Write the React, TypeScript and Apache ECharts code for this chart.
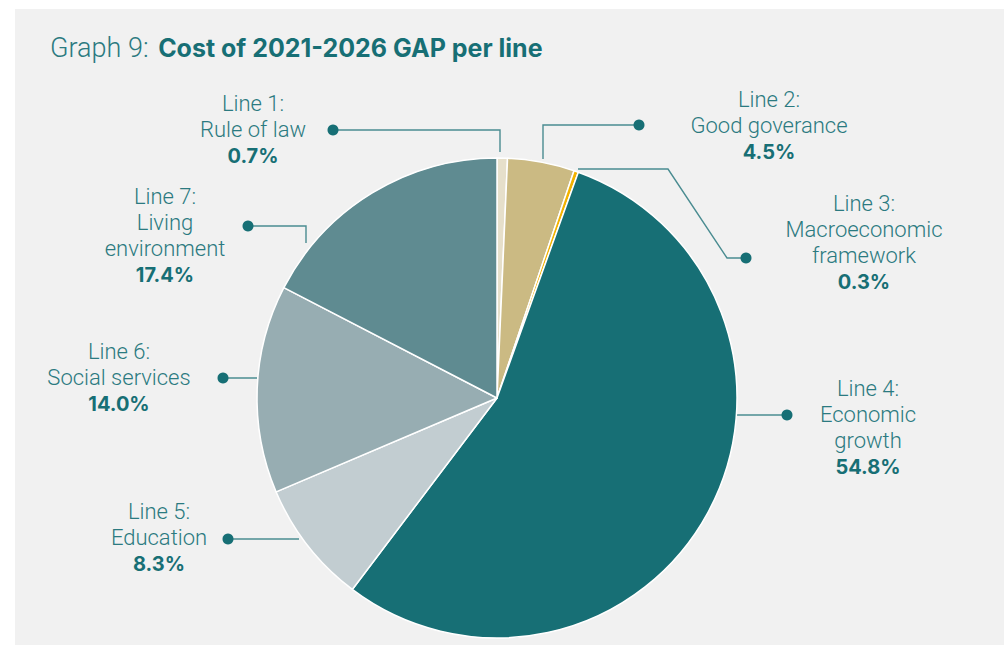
import React, { useEffect, useRef } from "react";
import * as echarts from "echarts";

const categories = [
  "Line 1:\nRule of law",
  "Line 2:\nGood goverance",
  "Line 3:\nMacroeconomic\nframework",
  "Line 4:\nEconomic\ngrowth",
  "Line 5:\nEducation",
  "Line 6:\nSocial services",
  "Line 7:\nLiving\nenvironment",
];
const shares = [0.7, 4.5, 0.3, 54.8, 8.3, 14.0, 17.4];
const sliceColors = ["#e6dfca", "#cbba83", "#f2b200", "#176f75", "#c2cdd1", "#97adb2", "#5f8b91"];

// label anchor (center x, middle y) and leader line points (slice -> dot)
const labelAnchors: [number, number][] = [
  [253, 130],
  [769, 126],
  [864, 243],
  [868, 428],
  [159, 538],
  [119, 378],
  [165, 236],
];
const leaderLines: [number, number][][] = [
  [[500, 152], [500, 130], [333, 130]],
  [[543, 159], [543, 125], [639, 125]],
  [[578, 169], [668, 169], [727, 258], [746, 258]],
  [[737, 415], [787, 415]],
  [[299, 539], [228, 539]],
  [[257, 378], [223, 378]],
  [[306, 243], [306, 226], [248, 226]],
];

const TEAL = "#176f75";
const LIGHT_FONT = "Roboto";
const BOLD_FONT = "Inter";

export default function App() {
  const ref = useRef<HTMLDivElement>(null);
  useEffect(() => {
    if (!ref.current) return;
    const chart = echarts.init(ref.current, null, { renderer: "svg" });
    const data = categories.map((c, i) => ({
      name: c,
      value: shares[i],
      itemStyle: { color: sliceColors[i] },
    }));
    const dots = leaderLines.map((pts) => {
      const end = pts[pts.length - 1];
      return {
        type: "circle",
        shape: { cx: end[0], cy: end[1], r: 5.5 },
        style: { fill: TEAL },
        z: 100,
      };
    });
    chart.setOption({
      animation: false,
      backgroundColor: "#ffffff",
      title: {
        left: 45,
        top: 29,
        text: "{a|Graph 9: }{b|Cost of 2021-2026 GAP per line}",
        textStyle: {
          rich: {
            a: { fontFamily: LIGHT_FONT, fontWeight: 300, fontSize: 27, color: "#2b7a80", padding: [0, 3, 0, 0] },
            b: { fontFamily: BOLD_FONT, fontWeight: 700, fontSize: 25, color: TEAL },
          },
        },
      },
      graphic: [
        {
          type: "rect",
          shape: { x: 15, y: 9, width: 989, height: 636 },
          style: { fill: "#f1f1f1" },
          z: -10,
          silent: true,
        },
        ...dots,
      ],
      series: [
        {
          type: "pie",
          center: [497, 398],
          radius: 240,
          startAngle: 90,
          clockwise: true,
          silent: true,
          avoidLabelOverlap: false,
          itemStyle: { borderColor: "#ffffff", borderWidth: 1.5 },
          label: {
            show: true,
            position: "outside",
            formatter: (p: any) => {
              const lines = String(p.name).split("\n").map((l: string) => `{n|${l}}`);
              return lines.join("\n") + `\n{b|${shares[p.dataIndex].toFixed(1)}%}`;
            },
            rich: {
              n: { fontFamily: LIGHT_FONT, fontWeight: 300, fontSize: 22, lineHeight: 26, color: "#2b7a80", align: "center" },
              b: { fontFamily: BOLD_FONT, fontWeight: 700, fontSize: 20, lineHeight: 28, color: TEAL, align: "center" },
            },
          },
          labelLine: {
            show: true,
            lineStyle: { color: "#4a8c91", width: 1.4 },
          },
          labelLayout: (params: any) => {
            const i = params.dataIndex;
            return {
              x: labelAnchors[i][0],
              y: labelAnchors[i][1],
              align: "center",
              verticalAlign: "middle",
              labelLinePoints: leaderLines[i],
            };
          },
          data,
        },
      ],
    });
    return () => chart.dispose();
  }, []);
  return (
    <div
      ref={ref}
      style={{ position: "absolute", left: 0, top: 0, width: 1004, height: 645 }}
    />
  );
}
